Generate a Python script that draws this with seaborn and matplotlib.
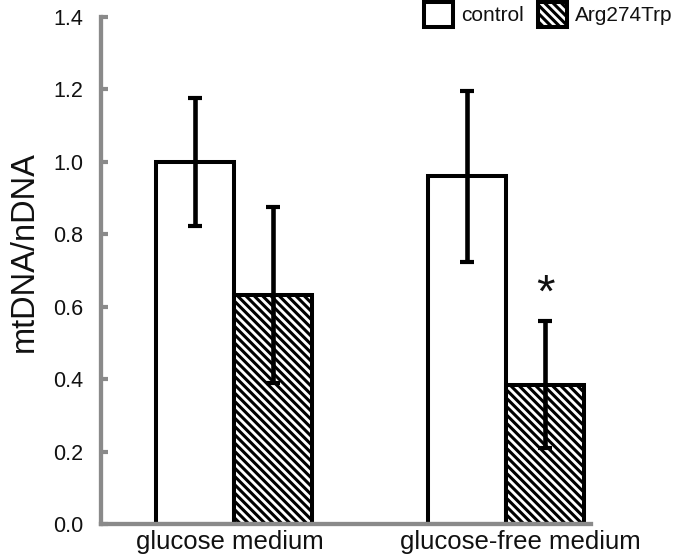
import matplotlib
matplotlib.use("Agg")
import matplotlib.pyplot as plt
import matplotlib.transforms as mtransforms
from matplotlib.patches import Patch
from matplotlib.container import BarContainer
import seaborn as sns
import pandas as pd

# ---- data ----
media = ["glucose medium", "glucose-free medium"]
genotypes = ["control", "Arg274Trp"]
control_vals = [1.00, 0.96]
control_err = [0.176, 0.236]
mutant_vals = [0.632, 0.385]
mutant_err = [0.243, 0.176]
yticks = [0.0, 0.2, 0.4, 0.6, 0.8, 1.0, 1.2, 1.4]

df = pd.DataFrame({
    "medium": media + media,
    "genotype": [genotypes[0]] * 2 + [genotypes[1]] * 2,
    "value": control_vals + mutant_vals,
})
errs = [control_err, mutant_err]

sns.set_theme(style="white")
plt.rcParams["font.family"] = ["Liberation Sans", "DejaVu Sans"]
plt.rcParams["hatch.linewidth"] = 2.2
plt.rcParams["hatch.color"] = "black"

fig = plt.figure(figsize=(6.75, 5.58), dpi=100)
ax = fig.add_axes([101 / 675, 1 - 524 / 558, 490 / 675, 507 / 558])

sns.barplot(data=df, x="medium", y="value", hue="genotype", order=media,
            hue_order=genotypes, palette=["white", "white"], edgecolor="black",
            linewidth=2.9, width=0.574, errorbar=None, legend=False, ax=ax,
            saturation=1)

bar_conts = [c for c in ax.containers if isinstance(c, BarContainer)]
hatches = [None, "\\" * 4]
for i, cont in enumerate(bar_conts):
    for j, p in enumerate(cont.patches):
        if hatches[i]:
            p.set_hatch(hatches[i])
        x = p.get_x() + p.get_width() / 2
        ax.errorbar(x, p.get_height(), yerr=errs[i][j], fmt="none",
                    ecolor="black", elinewidth=3.3, capsize=5, capthick=3,
                    zorder=5)

# significance star over mutant bar in glucose-free medium
p = bar_conts[1].patches[1]
ax.text(p.get_x() + p.get_width() / 2, mutant_vals[1] + mutant_err[1] + 0.012, "*",
        ha="center", va="bottom", fontsize=34, color="#111111")

ax.set_ylim(0, 1.4)
ax.set_xlim(-0.489, 1.312)
ax.set_yticks(yticks)
ax.set_yticklabels([f"{t:.1f}" for t in yticks])
ax.set_xlabel("")
ax.set_ylabel("mtDNA/nDNA", fontsize=23.5, color="#111111")
ax.yaxis.set_label_coords(-0.125, 0.538)

gray = "#8a8a8a"
for s in ["top", "right"]:
    ax.spines[s].set_visible(False)
for s in ["left", "bottom"]:
    ax.spines[s].set_color(gray)
    ax.spines[s].set_linewidth(3.1)
ax.tick_params(axis="y", direction="in", length=5, width=3, color=gray,
               labelsize=15.5, pad=13, labelcolor="#111111", left=True)
ax.tick_params(axis="x", length=0, labelsize=18.5, pad=4, labelcolor="#111111")

# slight horizontal nudges of category labels as in the reference
shifts = [-4, 14]
for lab, dx in zip(ax.get_xticklabels(), shifts):
    lab.set_transform(lab.get_transform() +
                      mtransforms.ScaledTranslation(dx / 100, 0, fig.dpi_scale_trans))

handles = [Patch(facecolor="white", edgecolor="black", linewidth=2.9, hatch=h, label=g)
           for g, h in zip(genotypes, hatches)]
fig.legend(handles=handles, loc="upper right", bbox_to_anchor=(677 / 675, 1.003),
           ncol=2, frameon=False, fontsize=15, handlelength=1.4, handleheight=1.4,
           handletextpad=0.38, columnspacing=0.7, borderpad=0.2, borderaxespad=0,
           labelcolor="#111111")

fig.savefig("out.png", dpi=100)
